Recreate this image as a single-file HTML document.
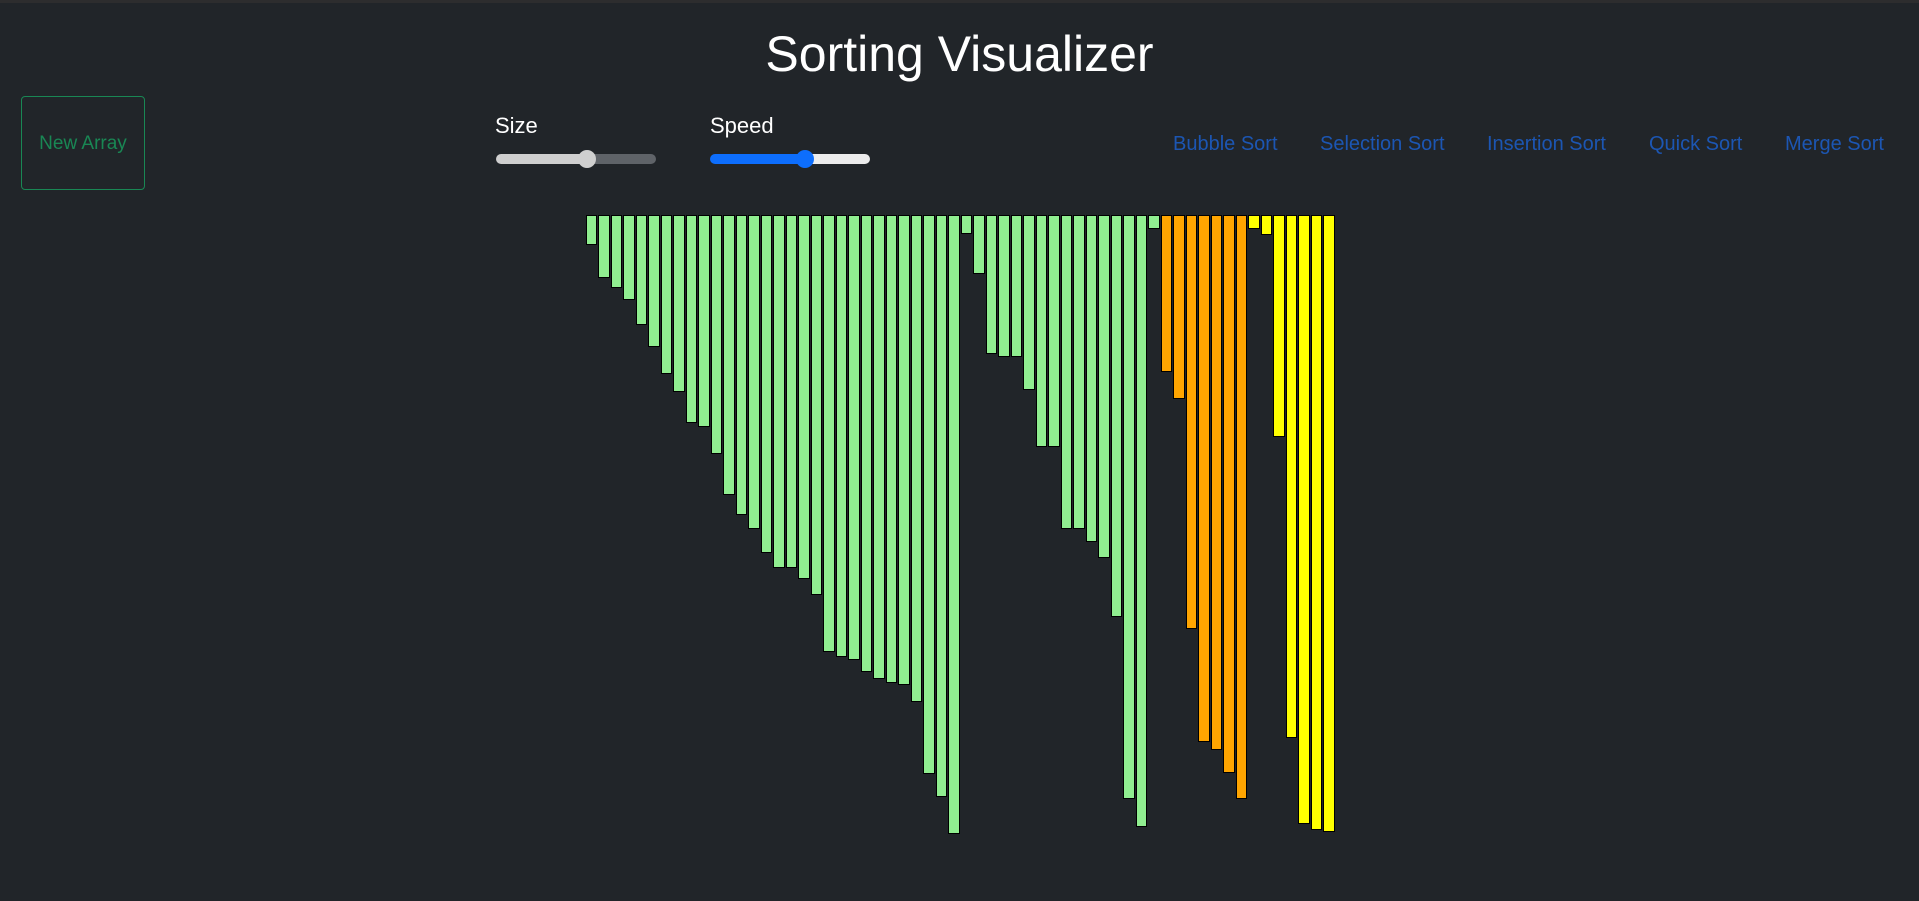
<!DOCTYPE html>
<html><head><meta charset="utf-8"><style>
body{margin:0;width:1919px;height:901px;background:#212529;position:relative;overflow:hidden;font-family:"Liberation Sans",sans-serif}
.topline{position:absolute;left:0;top:0;width:1919px;height:3px;background:#2d2d2e}
.title{position:absolute;left:0;width:1919px;top:24px;text-align:center;color:#fff;font-size:50px;line-height:60px}
.btn{position:absolute;left:21px;top:96px;width:124px;height:94px;box-sizing:border-box;border:1px solid #198754;border-radius:4px;color:#198754;font-size:19px;display:flex;align-items:center;justify-content:center;padding-top:2px}
.lbl{position:absolute;color:#fff;font-size:22px;top:113px}
.track{position:absolute;height:10px;border-radius:5px;top:154px}
.thumb{position:absolute;width:18px;height:18px;border-radius:50%;top:150px}
.nav{position:absolute;top:133px;color:#1c56b3;font-size:20px;white-space:nowrap}
.bar{position:absolute;top:215px;width:11.7px;box-sizing:border-box;border:1px solid #000}
</style></head><body>
<div class="topline"></div>
<div class="title">Sorting Visualizer</div>
<div class="btn">New Array</div>
<div class="lbl" style="left:495px">Size</div>
<div class="lbl" style="left:710px">Speed</div>
<div class="track" style="left:496px;width:160px;background:linear-gradient(90deg,#cfcfcf 0 57%,#5f6368 57%)"></div>
<div class="thumb" style="left:578px;background:#cfcfcf"></div>
<div class="track" style="left:710px;width:160px;background:linear-gradient(90deg,#0d6efd 0 59%,#ececec 59%)"></div>
<div class="thumb" style="left:796px;background:#0d6efd"></div>
<div class="nav" style="left:1173px">Bubble Sort</div>
<div class="nav" style="left:1320px">Selection Sort</div>
<div class="nav" style="left:1487px">Insertion Sort</div>
<div class="nav" style="left:1649px">Quick Sort</div>
<div class="nav" style="left:1785px">Merge Sort</div>
<div id="bars"></div>
<script>
var h=[29.6,62.5,72.5,84.6,109.5,132.4,159.3,177.4,207.5,212.4,239.3,279.5,299.5,314.4,337.7,352.6,352.6,364.2,379.5,437.3,442.2,444.6,457.4,464.3,467.5,469.5,487.2,559.1,582,619.3,19.1,59.3,139.2,142.4,142.4,174.6,232.4,232.4,314.4,314.4,327.3,342.5,402,584.4,612.1,14.3,157.3,184.2,414,527.3,534.6,557.5,584.4,14.3,19.5,222,522.5,609.3,614.5,617.3];
var s='';
for(var i=0;i<h.length;i++){var c=i<46?'#90ee90':(i<53?'#ffa500':'#ffff00');
s+='<div class="bar" style="left:'+(585.7+i*12.5).toFixed(1)+'px;height:'+h[i]+'px;background:'+c+'"></div>';}
document.getElementById('bars').innerHTML=s;
</script>
</body></html>
